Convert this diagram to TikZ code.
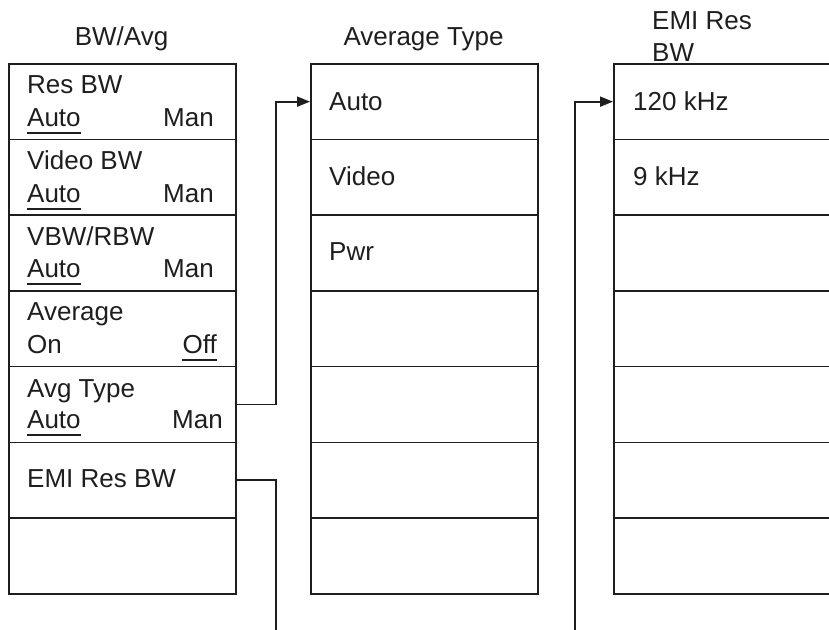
\documentclass[tikz,border=0pt]{standalone}
\usepackage{fontspec}
\setmainfont{Liberation Sans}
\usetikzlibrary{arrows.meta}
\definecolor{ink}{HTML}{1E1E1E}
\begin{document}
\begin{tikzpicture}[x=1pt,y=-1pt,
  cell/.style={draw=ink, line width=1.6pt, minimum width=227pt, minimum height=75.7pt, inner sep=0pt, anchor=north west},
  lbl/.style={inner sep=0pt, text=ink, font=\fontsize{26}{30}\selectfont},
  conn/.style={draw=ink, line width=1.8pt},
  ul/.style={draw=ink, line width=1.3pt},
  arr/.style={-{Triangle[length=13pt,width=10pt]}}]
\useasboundingbox (0,0) rectangle (829,629);
\clip (0,0) rectangle (829,629);
% columns
\foreach \i in {1,...,7}{
  \node[cell] (L\i) at (8,{63+(\i-1)*75.7}) {};
  \node[cell] (M\i) at (310,{63+(\i-1)*75.7}) {};
  \node[cell] (R\i) at (613,{63+(\i-1)*75.7}) {};
}
% titles
\node[lbl, anchor=base] (tL) at (121.5,45) {BW/Avg};
\node[lbl, anchor=base] (tM) at (423.5,45) {Average Type};
\node[lbl, anchor=base west] (tR1) at (652,29) {EMI Res};
\node[lbl, anchor=base west] (tR2) at (652,61) {BW};
% left column texts
\node[lbl, anchor=base west] (a1) at (27,93) {Res BW};
\node[lbl, anchor=base west] (a1a) at (27,126) {Auto};
\node[lbl, anchor=base east] (a1m) at (214,126) {Man};
\node[lbl, anchor=base west] (a2) at (27,169) {Video BW};
\node[lbl, anchor=base west] (a2a) at (27,202) {Auto};
\node[lbl, anchor=base east] (a2m) at (214,202) {Man};
\node[lbl, anchor=base west] (a3) at (27,245) {VBW/RBW};
\node[lbl, anchor=base west] (a3a) at (27,277) {Auto};
\node[lbl, anchor=base east] (a3m) at (214,277) {Man};
\node[lbl, anchor=base west] (a4) at (27,320) {Average};
\node[lbl, anchor=base west] (a4o) at (27,353) {On};
\node[lbl, anchor=base east] (a4f) at (217,353) {Off};
\node[lbl, anchor=base west] (a5) at (27,397) {Avg Type};
\node[lbl, anchor=base west] (a5a) at (27,428) {Auto};
\node[lbl, anchor=base east] (a5m) at (223,428) {Man};
\node[lbl, anchor=base west] (a6) at (27,487) {EMI Res BW};
% underlines
\foreach \n in {a1a,a2a,a3a,a4f,a5a}{
  \draw[ul] ([yshift=-7pt]\n.base west) -- ([yshift=-7pt]\n.base east);
}
% middle column texts
\node[lbl, anchor=base west] (m1) at (329,110) {Auto};
\node[lbl, anchor=base west] (m2) at (329,185) {Video};
\node[lbl, anchor=base west] (m3) at (329,260) {Pwr};
% right column texts
\node[lbl, anchor=base west] (r1) at (633,110) {120 kHz};
\node[lbl, anchor=base west] (r2) at (633,185) {9 kHz};
% connectors
\coordinate (low) at (420,660);
\draw[conn, arr] (L5.east) -- ++(39,0) |- (M1.west);
\draw[conn, arr] (L6.east) -- ++(39,0) |- (low) -| ([xshift=-38pt]R1.west) -- (R1.west);
\end{tikzpicture}
\end{document}
